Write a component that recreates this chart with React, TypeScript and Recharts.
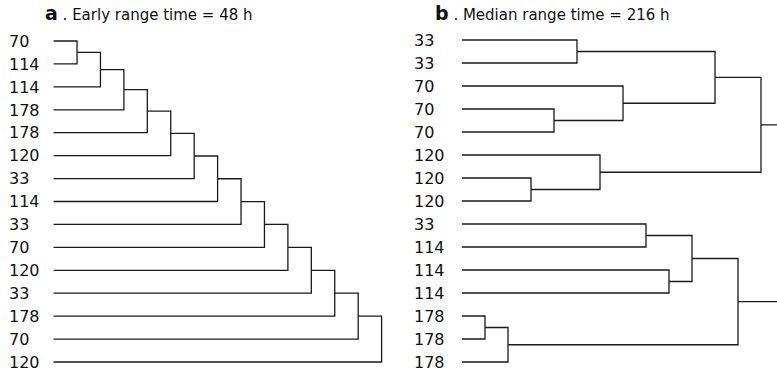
import React from 'react';
import { LineChart, Line, XAxis, YAxis } from 'recharts';

// leaf labels, top to bottom
const leavesA = ['70', '114', '114', '178', '178', '120', '33', '114', '33', '70', '120', '33', '178', '70', '120'];
const leavesB = ['33', '33', '70', '70', '70', '120', '120', '120', '33', '114', '114', '114', '178', '178', '178'];

// merges as [left, right, height]; ids >= 15 point at earlier merges (15 = first merge)
const mergesA = [
  [0, 1, 1], [15, 2, 2], [16, 3, 3], [17, 4, 4], [18, 5, 5], [19, 6, 6], [20, 7, 7],
  [21, 8, 8], [22, 9, 9], [23, 10, 10], [24, 11, 11], [25, 12, 12], [26, 13, 13], [27, 14, 14],
];
const mergesB = [
  [12, 13, 1], [15, 14, 2], [6, 7, 3], [3, 4, 4], [0, 1, 5], [5, 17, 6], [2, 18, 7],
  [8, 9, 8], [10, 11, 9], [22, 23, 10], [19, 21, 11], [24, 16, 12], [25, 20, 13], [27, 26, 14],
];

const titleA = 'Early range time = 48 h';
const titleB = 'Median range time = 216 h';

const FONT = '"DejaVu Sans", Verdana, sans-serif';

type Pt = { x: number; y: number };

// turn the merge list into elbow links: child -> merge height -> other child
function buildLinks(n: number, merges: number[][]): Pt[][] {
  const nodes: Pt[] = [];
  for (let i = 0; i < n; i++) nodes.push({ x: 0, y: i });
  const links: Pt[][] = [];
  merges.forEach(([a, b, h]) => {
    const l = nodes[a];
    const r = nodes[b];
    links.push([
      { x: l.x, y: l.y },
      { x: h, y: l.y },
      { x: h, y: r.y },
      { x: r.x, y: r.y },
    ]);
    nodes.push({ x: h, y: (l.y + r.y) / 2 });
  });
  return links;
}

type Props = {
  leaves: string[];
  merges: number[][];
  width: number;
  axisWidth: number;
  labelX: number;
  top: number;
  right: number;
};

const Dendrogram = ({ leaves, merges, width, axisWidth, labelX, top, right }: Props) => {
  const links = buildLinks(leaves.length, merges);
  const ticks = leaves.map((_, i) => i);
  const LeafTick = (props: any) => {
    const { y, payload } = props;
    return (
      <text x={labelX} y={y} dy="0.36em" textAnchor="start" fontFamily={FONT} fontSize={16} fill="#111">
        {leaves[payload.value]}
      </text>
    );
  };
  return (
    <LineChart width={width} height={373} margin={{ top, right, bottom: 11, left: 0 }}>
      <XAxis type="number" dataKey="x" domain={[0, 14]} hide />
      <YAxis
        type="number"
        dataKey="y"
        domain={[0, leaves.length - 1]}
        ticks={ticks}
        interval={0}
        reversed
        width={axisWidth}
        axisLine={false}
        tickLine={false}
        tick={<LeafTick />}
      />
      {links.map((pts, i) => (
        <Line
          key={i}
          data={pts}
          dataKey="y"
          type="linear"
          stroke="#1a1a1a"
          strokeWidth={1.3}
          dot={false}
          activeDot={false}
          isAnimationActive={false}
        />
      ))}
    </LineChart>
  );
};

const Title = ({ letter, text, left }: { letter: string; text: string; left: number }) => (
  <div
    style={{
      position: 'absolute',
      left,
      top: 4,
      fontFamily: FONT,
      fontSize: 15,
      lineHeight: '18px',
      color: '#111',
      whiteSpace: 'nowrap',
    }}
  >
    <span style={{ fontWeight: 'bold', fontSize: 19 }}>{letter}</span> . {text}
  </div>
);

export default function App() {
  return (
    <div
      style={{
        position: 'absolute',
        left: 0,
        top: 0,
        width: 777,
        height: 373,
        overflow: 'hidden',
        background: '#fff',
      }}
    >
      <Title letter="a" text={titleA} left={45} />
      <Title letter="b" text={titleB} left={435} />
      <div style={{ position: 'absolute', left: 0, top: 0 }}>
        <Dendrogram leaves={leavesA} merges={mergesA} width={390} axisWidth={53.6} labelX={9} top={41} right={8.4} />
      </div>
      <div style={{ position: 'absolute', left: 390, top: 0 }}>
        <Dendrogram leaves={leavesB} merges={mergesB} width={394} axisWidth={72} labelX={24} top={40} right={0} />
      </div>
    </div>
  );
}
